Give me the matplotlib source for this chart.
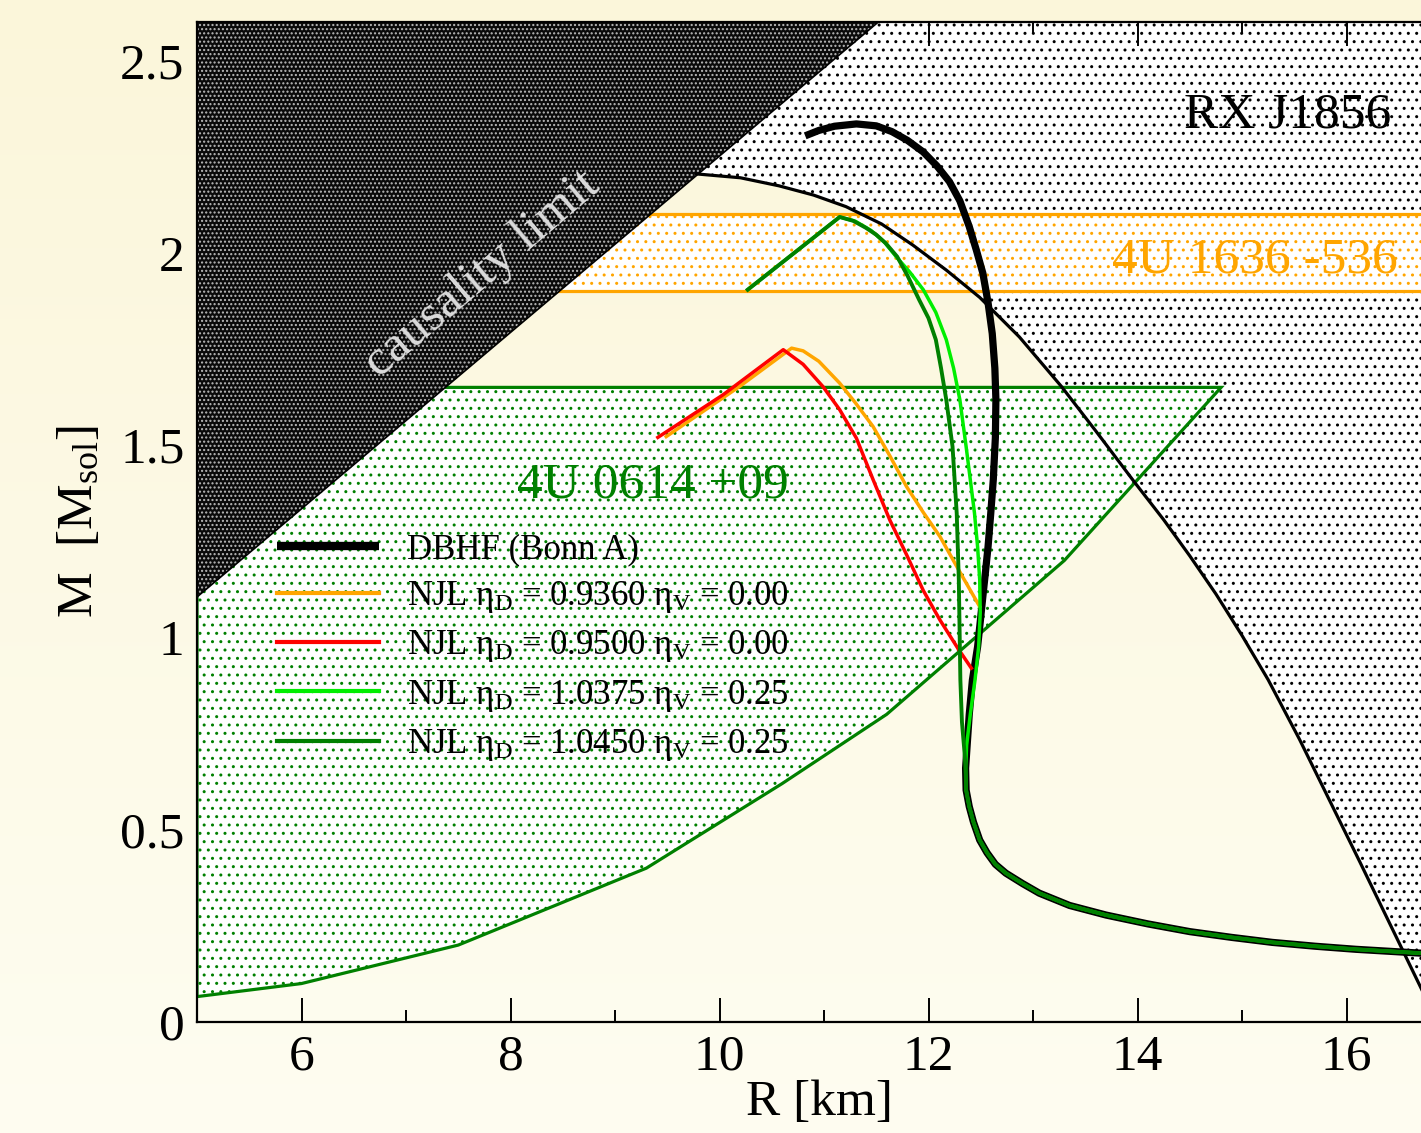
import numpy as np
import matplotlib
matplotlib.use("Agg")
import matplotlib.pyplot as plt
from matplotlib.patches import Polygon

plt.rcParams['font.family'] = ['Liberation Serif', 'DejaVu Serif']
plt.rcParams['mathtext.fontset'] = 'custom'
plt.rcParams['mathtext.rm'] = 'Liberation Serif'
plt.rcParams['mathtext.it'] = 'Liberation Serif:italic'
plt.rcParams['hatch.linewidth'] = 1.0

# ---- data (R in km, M in solar masses) ----
causality_R = [5.0, 11.52]
causality_M = [1.105, 2.6]

# RX J1856 constraint boundary (thin black line)
rx_R = [9.78, 10.2, 10.57, 10.9, 11.21, 11.55, 11.85, 12.17, 12.49, 12.87, 13.27, 13.6,
        13.97, 14.25, 14.5, 14.75, 15.0, 15.25, 15.55, 16.13, 16.71, 16.87]
rx_M = [2.205, 2.195, 2.174, 2.150, 2.12, 2.075, 2.02, 1.955, 1.884, 1.781, 1.653, 1.537,
        1.404, 1.306, 1.212, 1.113, 1.005, 0.89, 0.735, 0.415, 0.09, 0.0]

# 4U 1636-536 band
band_1636_lo = 1.9
band_1636_hi = 2.1

# 4U 0614+09 region
src0614_top = 1.65
src0614_R = [14.8, 13.3, 11.6, 10.6, 9.3, 7.5, 6.0, 5.0]
src0614_M = [1.65, 1.2, 0.8, 0.62, 0.4, 0.2, 0.1, 0.066]

# common low-mass tail of all mass-radius curves
tail_R = [12.355, 12.36, 12.39, 12.43, 12.49, 12.56, 12.64, 12.74, 12.9, 13.06, 13.35, 13.70,
          14.1, 14.50, 14.9, 15.29, 15.7, 16.09, 16.4, 16.71, 17.0]
tail_M = [0.66, 0.603, 0.56, 0.52, 0.473, 0.44, 0.41, 0.387, 0.36, 0.335, 0.303, 0.278,
          0.255, 0.235, 0.22, 0.207, 0.197, 0.189, 0.184, 0.179, 0.175]

dbhf_R = [10.82, 10.95, 11.1, 11.31, 11.5, 11.65, 11.8, 11.95, 12.08, 12.2, 12.3, 12.39,
          12.46, 12.52, 12.57, 12.61, 12.635, 12.645, 12.64, 12.62, 12.595, 12.57, 12.545,
          12.52, 12.495, 12.47, 12.42, 12.39, 12.37]
dbhf_M = [2.304, 2.318, 2.329, 2.335, 2.330, 2.315, 2.292, 2.262, 2.226, 2.185, 2.135, 2.068,
          2.005, 1.947, 1.87, 1.79, 1.70, 1.618, 1.52, 1.41, 1.32, 1.236, 1.17,
          1.106, 1.04, 0.976, 0.889, 0.80, 0.72]

njl1_R = [9.49, 10.19, 10.69, 10.80, 10.95, 11.15, 11.30, 11.47, 11.63, 11.79, 11.95, 12.11,
          12.30, 12.49]
njl1_M = [1.522, 1.652, 1.752, 1.745, 1.718, 1.661, 1.61, 1.548, 1.472, 1.392, 1.325, 1.262,
          1.17, 1.080]

njl2_R = [9.41, 10.03, 10.61, 10.80, 10.99, 11.15, 11.31, 11.47, 11.63, 11.79, 11.95, 12.11,
          12.28, 12.41]
njl2_M = [1.520, 1.630, 1.748, 1.71, 1.652, 1.592, 1.518, 1.41, 1.305, 1.215, 1.122, 1.045,
          0.972, 0.920]

njl3_R = [10.27, 11.15, 11.3, 11.45, 11.58, 11.69, 11.82, 11.95, 12.07, 12.17, 12.24, 12.30,
          12.36, 12.40, 12.44, 12.47, 12.49, 12.495, 12.48, 12.445, 12.40, 12.365]
njl3_M = [1.904, 2.093, 2.082, 2.058, 2.027, 1.99, 1.95, 1.904, 1.845, 1.774, 1.70, 1.618,
          1.496, 1.41, 1.323, 1.235, 1.150, 1.064, 0.976, 0.889, 0.80, 0.72]

njl4_R = [10.27, 11.15, 11.28, 11.40, 11.50, 11.59, 11.70, 11.80, 11.91, 12.0, 12.07, 12.12,
          12.17, 12.23, 12.27, 12.29, 12.30, 12.305, 12.32, 12.345]
njl4_M = [1.904, 2.093, 2.083, 2.065, 2.047, 2.025, 1.99, 1.94, 1.878, 1.83, 1.774, 1.70,
          1.618, 1.496, 1.323, 1.150, 0.976, 0.889, 0.78, 0.70]

labels = ['DBHF (Bonn A)',
          r'NJL η$_\mathrm{D}$ = 0.9360 η$_\mathrm{V}$ = 0.00',
          r'NJL η$_\mathrm{D}$ = 0.9500 η$_\mathrm{V}$ = 0.00',
          r'NJL η$_\mathrm{D}$ = 1.0375 η$_\mathrm{V}$ = 0.25',
          r'NJL η$_\mathrm{D}$ = 1.0450 η$_\mathrm{V}$ = 0.25']

ORANGE = '#FFA500'
GREEN = '#008000'
LIME = '#00EE00'

fig = plt.figure(figsize=(14.21, 11.33), dpi=100)

# cream gradient background
bg = fig.add_axes([0, 0, 1, 1])
grad = np.linspace(0, 1, 256).reshape(-1, 1)
top = np.array([0.985, 0.965, 0.855])
bot = np.array([0.997, 0.992, 0.945])
img = top[None, None, :] * (1 - grad[..., None]) + bot[None, None, :] * grad[..., None]
bg.imshow(img, aspect='auto', extent=[0, 1, 0, 1])
bg.axis('off')

ax = fig.add_axes([197 / 1421, 111 / 1133, 1254 / 1421, 1000 / 1133])
ax.set_facecolor('none')
ax.set_xlim(5, 17)
ax.set_ylim(0, 2.6)
ymax = 2.6

# RX J1856 region
rx_poly = list(zip(rx_R, rx_M)) + [(17.5, 0), (17.5, ymax), (causality_R[1], ymax)]
ax.add_patch(Polygon(rx_poly, closed=True, facecolor='white', edgecolor='black',
                     hatch='..', linewidth=0, zorder=1))

# 4U 1636-536 band
ax.fill_between([5, 17.5], band_1636_lo, band_1636_hi, facecolor='white',
                edgecolor=ORANGE, hatch='..', linewidth=0, zorder=2)
ax.axhline(band_1636_lo, color=ORANGE, lw=2.3, zorder=2.1)
ax.axhline(band_1636_hi, color=ORANGE, lw=2.3, zorder=2.1)

# 4U 0614+09 region
g_poly = [(5, src0614_top)] + list(zip(src0614_R, src0614_M))
ax.add_patch(Polygon(g_poly, closed=True, facecolor='white', edgecolor=GREEN,
                     hatch='..', linewidth=0, zorder=2))
ax.add_patch(Polygon(g_poly, closed=True, facecolor='none', edgecolor=GREEN,
                     linewidth=2.3, zorder=2.1))

# causality limit
c_poly = [(causality_R[0], causality_M[0]), (causality_R[1], causality_M[1]), (causality_R[0], ymax)]
ax.add_patch(Polygon(c_poly, closed=True, facecolor='#0a0a0a', edgecolor='#bbbbbb',
                     hatch='....', linewidth=0, zorder=3))
ax.plot(causality_R, causality_M, color='black', lw=1.2, zorder=3.1)

# curves
ax.plot(rx_R, rx_M, color='black', lw=2.3, zorder=4, solid_joinstyle='round')
l0, = ax.plot(dbhf_R + tail_R, dbhf_M + tail_M, color='black', lw=5.2, zorder=5,
              solid_capstyle='butt', solid_joinstyle='round')
l1, = ax.plot(njl1_R, njl1_M, color=ORANGE, lw=2.5, zorder=6, solid_joinstyle='round')
l2, = ax.plot(njl2_R, njl2_M, color='red', lw=2.5, zorder=6, solid_joinstyle='round')
l3, = ax.plot(njl3_R + tail_R, njl3_M + tail_M, color=LIME, lw=2.5, zorder=7,
              solid_joinstyle='round')
l4, = ax.plot(njl4_R + tail_R, njl4_M + tail_M, color=GREEN, lw=2.8, zorder=8,
              solid_joinstyle='round')

# annotations
ax.text(16.43, 2.325, 'RX J1856', ha='right', va='baseline', fontsize=37, zorder=10)
ax.text(16.49, 1.95, '4U 1636 -536', ha='right', va='baseline', fontsize=37,
        color=ORANGE, zorder=10)
ax.text(8.06, 1.365, '4U 0614 +09', ha='left', va='baseline', fontsize=37,
        color=GREEN, zorder=10)
ax.text(7.73, 1.945, 'causality limit', ha='center', va='center', fontsize=37,
        color='#dcdcdc', rotation=40.5, rotation_mode='anchor', zorder=10)

leg = ax.legend([l0, l1, l2, l3, l4], labels, loc='upper left',
                bbox_to_anchor=(0.0638, 0.489), frameon=False, fontsize=25,
                handlelength=2.95, handletextpad=0.8, labelspacing=0.38,
                borderpad=0, borderaxespad=0)
leg.set_zorder(11)
for h in leg.get_lines()[1:]:
    h.set_linewidth(3)
leg.get_lines()[0].set_linewidth(6)

# axes styling
ax.set_xticks([6, 8, 10, 12, 14, 16])
ax.set_xticks(np.arange(5, 17.01, 1), minor=True)
ax.set_yticks([0, 0.5, 1, 1.5, 2, 2.5])
ax.set_yticklabels(['0', '0.5', '1', '1.5', '2', '2.5'])
ax.set_yticks(np.arange(0, 2.61, 0.1), minor=True)
ax.tick_params(which='both', direction='in', top=True, right=True, width=1.4,
               labelsize=37, pad=9)
ax.tick_params(which='major', length=17)
ax.tick_params(which='minor', length=8.5)
for s in ax.spines.values():
    s.set_linewidth(1.6)
    s.set_zorder(12)

ax.set_xlabel('R [km]', fontsize=37)
ax.set_ylabel(r'M  [M$_\mathrm{sol}$]', fontsize=37, labelpad=12)
ax.xaxis.set_label_coords((820 - 197) / 1254, -0.058)

fig.savefig('out.png', dpi=100)
